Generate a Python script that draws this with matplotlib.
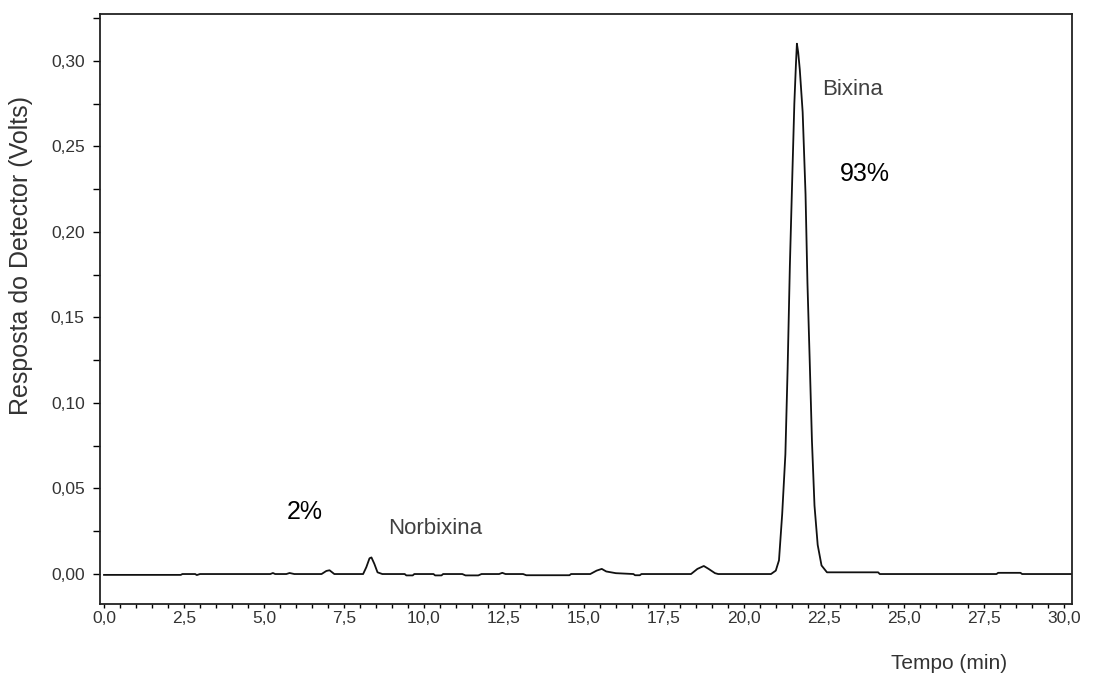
import numpy as np
import matplotlib.pyplot as plt
from matplotlib.ticker import MultipleLocator, FuncFormatter

# Trace (time in min, response in V)
tempo = [0.0, 2.4, 2.45, 2.85, 2.9, 3.0, 5.2, 5.28, 5.35, 5.7, 5.8, 5.95,
         6.8, 6.95, 7.05, 7.2, 8.1, 8.2, 8.3, 8.36, 8.45, 8.55, 8.7,
         9.4, 9.45, 9.65, 9.7, 10.3, 10.35, 10.55, 10.6, 11.2, 11.3, 11.7, 11.8,
         12.35, 12.45, 12.55, 13.1, 13.2, 14.55, 14.6, 15.2, 15.4, 15.56, 15.7,
         16.0, 16.55, 16.6, 16.75, 16.8, 18.35, 18.55, 18.75, 18.9, 19.1, 19.2,
         20.85, 21.0, 21.1, 21.2, 21.3, 21.37, 21.44, 21.52, 21.58, 21.63, 21.66,
         21.70, 21.75, 21.84, 21.93, 21.99, 22.06, 22.13, 22.21, 22.31, 22.43,
         22.6, 22.8, 24.2, 24.25, 27.9, 27.95, 28.65, 28.7, 30.25]
resposta = [-0.0005, -0.0005, 0.0, 0.0, -0.0006, 0.0, 0.0, 0.0006, 0.0, 0.0, 0.0006, 0.0,
            0.0, 0.0018, 0.0022, 0.0, 0.0, 0.004, 0.0092, 0.0097, 0.006, 0.001, 0.0,
            0.0, -0.0008, -0.0008, 0.0, 0.0, -0.0008, -0.0008, 0.0, 0.0, -0.0008, -0.0008, 0.0,
            0.0, 0.0007, 0.0, 0.0, -0.0007, -0.0007, 0.0, 0.0, 0.002, 0.003, 0.0015,
            0.0005, 0.0, -0.0007, -0.0007, 0.0, 0.0, 0.003, 0.0047, 0.003, 0.0005, 0.0,
            0.0, 0.002, 0.008, 0.035, 0.07, 0.12, 0.18, 0.235, 0.275, 0.298, 0.31,
            0.305, 0.295, 0.27, 0.222, 0.17, 0.125, 0.078, 0.04, 0.017, 0.005,
            0.001, 0.001, 0.001, 0.0, 0.0, 0.0007, 0.0007, 0.0, 0.0]

# annotations: (text, x, y, size, colour, ha)
anotacoes = [("2%", 6.28, 0.0362, 18, "black", "center"),
             ("Norbixina", 8.88, 0.0269, 16, "#404040", "left"),
             ("Bixina", 22.44, 0.283, 16, "#404040", "left"),
             ("93%", 23.78, 0.234, 18, "black", "center")]

plt.rcParams['font.family'] = ['Liberation Sans', 'DejaVu Sans']

fig = plt.figure(figsize=(10.93, 6.79), dpi=100)
ax = fig.add_axes([0.0915, 0.1105, 0.889, 0.869])

ax.plot(tempo, resposta, color="#111111", lw=1.3)

ax.set_xlim(-0.125, 30.25)
ax.set_ylim(-0.0175, 0.3274)

ax.xaxis.set_major_locator(MultipleLocator(2.5))
ax.xaxis.set_minor_locator(MultipleLocator(0.5))
ax.yaxis.set_major_locator(MultipleLocator(0.05))
ax.yaxis.set_minor_locator(MultipleLocator(0.025))
ax.xaxis.set_major_formatter(FuncFormatter(lambda v, p: f"{v:.1f}".replace(".", ",")))
ax.yaxis.set_major_formatter(FuncFormatter(lambda v, p: f"{v:.2f}".replace(".", ",")))

ax.tick_params(axis="x", which="both", direction="out", length=3, width=1,
               labelsize=12.5, labelcolor="#333333", pad=2)
ax.tick_params(axis="y", which="both", direction="out", length=5, width=1,
               labelsize=12.5, labelcolor="#333333", pad=6)
for s in ax.spines.values():
    s.set_linewidth(1.3)
    s.set_color("#222222")

ax.set_ylabel("Resposta do Detector (Volts)", fontsize=18, color="#333333")
ax.yaxis.set_label_coords(-0.069, 0.59)
ax.set_xlabel("Tempo (min)", fontsize=15, color="#333333")
ax.xaxis.set_label_coords(0.874, -0.085)

for txt, x, y, sz, c, ha in anotacoes:
    ax.text(x, y, txt, fontsize=sz, color=c, ha=ha, va="center")

fig.savefig("out.png", dpi=100)
